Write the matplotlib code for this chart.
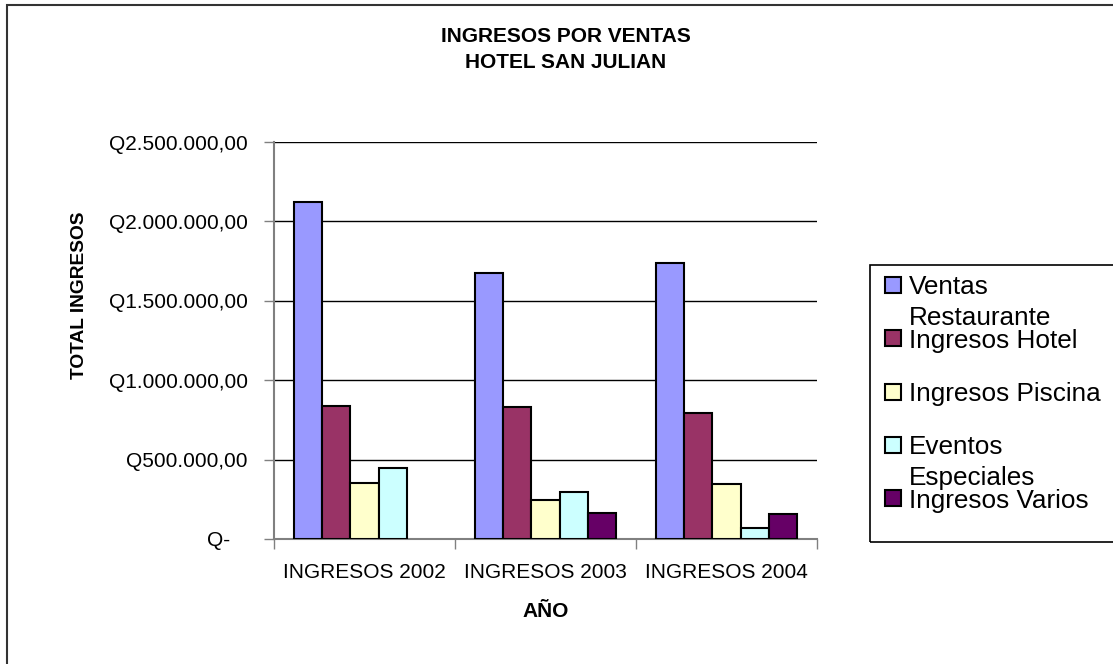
import numpy as np
import matplotlib.pyplot as plt
from matplotlib.patches import Rectangle
from matplotlib.ticker import FuncFormatter

plt.rcParams['font.family'] = ['Liberation Sans', 'DejaVu Sans']

# datos
categorias = ['INGRESOS 2002', 'INGRESOS 2003', 'INGRESOS 2004']
series = ['Ventas\nRestaurante', 'Ingresos Hotel', 'Ingresos Piscina',
          'Eventos\nEspeciales', 'Ingresos Varios']
ventas_restaurante = [2120000, 1675000, 1738000]
ingresos_hotel = [840000, 833000, 795000]
ingresos_piscina = [355000, 245000, 344000]
eventos_especiales = [450000, 294000, 67000]
ingresos_varios = [np.nan, 166000, 156000]
colores = ['#9999FF', '#993366', '#FFFFCC', '#CCFFFF', '#660066']

valores = [ventas_restaurante, ingresos_hotel, ingresos_piscina,
           eventos_especiales, ingresos_varios]

W, H = 1113, 664
fig = plt.figure(figsize=(W / 100, H / 100), dpi=100)


def fx(x):
    return x / W


def fy(y):
    return 1 - y / H


def quetzales(v, pos):
    if v == 0:
        return 'Q-   '
    s = f'{v:,.2f}'.replace(',', 'X').replace('.', ',').replace('X', '.')
    return 'Q' + s


# marco exterior
fig.add_artist(Rectangle((fx(7), fy(700)), fx(1200) - fx(7), fy(5) - fy(700),
                         transform=fig.transFigure, fill=False,
                         edgecolor='#333333', linewidth=1.5))

ax = fig.add_axes([fx(274), fy(539), fx(817) - fx(274), fy(142) - fy(539)])

n = len(series)
ancho = 0.155
x = np.arange(len(categorias))
for i, (vals, col) in enumerate(zip(valores, colores)):
    ax.bar(x + (i - (n - 1) / 2) * ancho, vals, width=ancho, color=col,
           edgecolor='black', linewidth=1.5, zorder=3)

ax.set_xlim(-0.5, 2.5)
ax.set_ylim(0, 2500000)
ax.set_yticks(np.arange(0, 2500001, 500000))
ax.yaxis.set_major_formatter(FuncFormatter(quetzales))
ax.grid(axis='y', color='black', linewidth=1, zorder=0)
ax.set_xticks(x)
ax.set_xticklabels(categorias, fontsize=15)
ax.tick_params(axis='x', length=0, pad=17)
ax.set_xticks([-0.5, 0.5, 1.5, 2.5], minor=True)
ax.tick_params(axis='x', which='minor', direction='out', length=7, color='#808080', width=1)
ax.tick_params(axis='y', labelsize=15, length=7, color='#808080', width=1, pad=12)

for s in ['top', 'right']:
    ax.spines[s].set_visible(False)
for s in ['left', 'bottom']:
    ax.spines[s].set_color('#808080')
    ax.spines[s].set_linewidth(1.5)

ax.set_xlabel('AÑO', fontsize=15, fontweight='bold', labelpad=15)
fig.text(fx(80), fy(295), 'TOTAL INGRESOS', rotation=90, ha='center', va='center',
         fontsize=13.8, fontweight='bold')

fig.text(fx(566), fy(49.4), 'INGRESOS POR VENTAS\nHOTEL SAN JULIAN', ha='center', va='center',
         fontsize=15, fontweight='bold', linespacing=1.5)

# leyenda
fig.add_artist(Rectangle((fx(870), fy(542)), fx(1200) - fx(870), fy(265) - fy(542),
                         transform=fig.transFigure, fill=False,
                         edgecolor='black', linewidth=1.2))
for i, (lab, col) in enumerate(zip(series, colores)):
    yc = 285 + i * 53.3
    fig.add_artist(Rectangle((fx(885), fy(yc + 8)), fx(16), fx(16) * W / H,
                             transform=fig.transFigure, facecolor=col,
                             edgecolor='black', linewidth=1.5))
    for k, linea in enumerate(lab.split('\n')):
        fig.text(fx(909), fy(yc + k * 31), linea, ha='left', va='center_baseline',
                 fontsize=18.8)

fig.savefig('out.png', dpi=100)
